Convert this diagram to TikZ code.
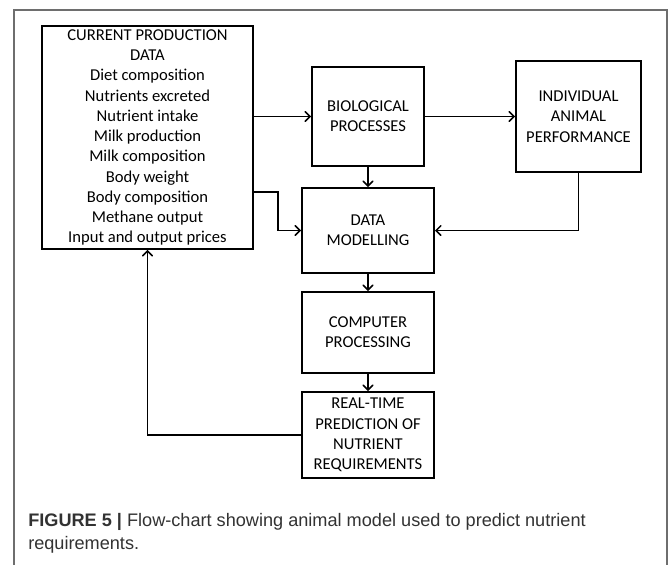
\documentclass[tikz,border=0pt]{standalone}
\usepackage{fontspec}
\setmainfont{Carlito}
\newfontfamily\capfont{Liberation Sans}
\usepackage{tikz}
\usetikzlibrary{arrows,calc,positioning}
\definecolor{framegray}{RGB}{110,110,110}
\definecolor{captext}{RGB}{50,50,50}

\begin{document}
\begin{tikzpicture}[box/.style={draw,line width=1.4pt,align=center,inner sep=0pt,
      font=\fontsize{11.8}{14.4}\selectfont},
    flow/.style={-angle 90,line width=1.1pt}]
  \useasboundingbox (0,0) rectangle (16.725,-14.1);
  \draw[framegray,line width=0.8pt] (0.35,-14.3) -- (0.35,-0.25) -- (16.675,-0.25) -- (16.675,-14.3);
  % boxes
  \node[box,minimum width=5.275cm,minimum height=5.575cm] (src) at (3.6875,-3.4375)
    {CURRENT PRODUCTION\\DATA\\Diet composition\\Nutrients excreted\\Nutrient intake\\Milk production\\Milk composition\\Body weight\\Body composition\\Methane output\\Input and output prices};
  \node[box,minimum width=2.8cm,minimum height=2.475cm] (bio) at (9.2,-2.9125) {BIOLOGICAL\\PROCESSES};
  \node[box,minimum width=3.125cm,minimum height=2.775cm] (ind) at (14.4625,-2.9125) {INDIVIDUAL\\ANIMAL\\PERFORMANCE};
  \node[box,minimum width=3.3cm,minimum height=2.125cm] (dm) at (9.2,-5.7625) {DATA\\MODELLING};
  \node[box,minimum width=3.3cm,minimum height=2.025cm] (cp) at (9.2,-8.3125) {COMPUTER\\PROCESSING};
  \node[box,minimum width=3.3cm,minimum height=2.15cm] (rt) at (9.2,-10.875) {REAL-TIME\\PREDICTION OF\\NUTRIENT\\REQUIREMENTS};
  % connectors
  \coordinate (srcout) at ($(src.east)+(0,-1.3625)$);
  \draw[flow] (bio -| src.east) -- (bio.west);
  \draw[flow] (bio.east) -- (ind.west);
  \draw[flow] (bio.south) -- (dm.north);
  \draw[flow] (srcout) -- ++(0.6,0) |- (dm.west);
  \draw[flow] (ind.south) |- (dm.east);
  \draw[flow] (dm.south) -- (cp.north);
  \draw[flow] (cp.south) -- (rt.north);
  \draw[flow] (rt.west) -| (src.south);
  % caption
  \node[anchor=base west,inner sep=0pt,captext,font=\capfont\fontsize{12.9}{16}\selectfont] (cap1) at (0.7,-13.15)
    {\textbf{FIGURE 5 |} Flow-chart showing animal model used to predict nutrient};
  \node[anchor=base west,inner sep=0pt,captext,font=\capfont\fontsize{12.9}{16}\selectfont] (cap2) at (0.7,-13.725)
    {requirements.};
\end{tikzpicture}
\end{document}
